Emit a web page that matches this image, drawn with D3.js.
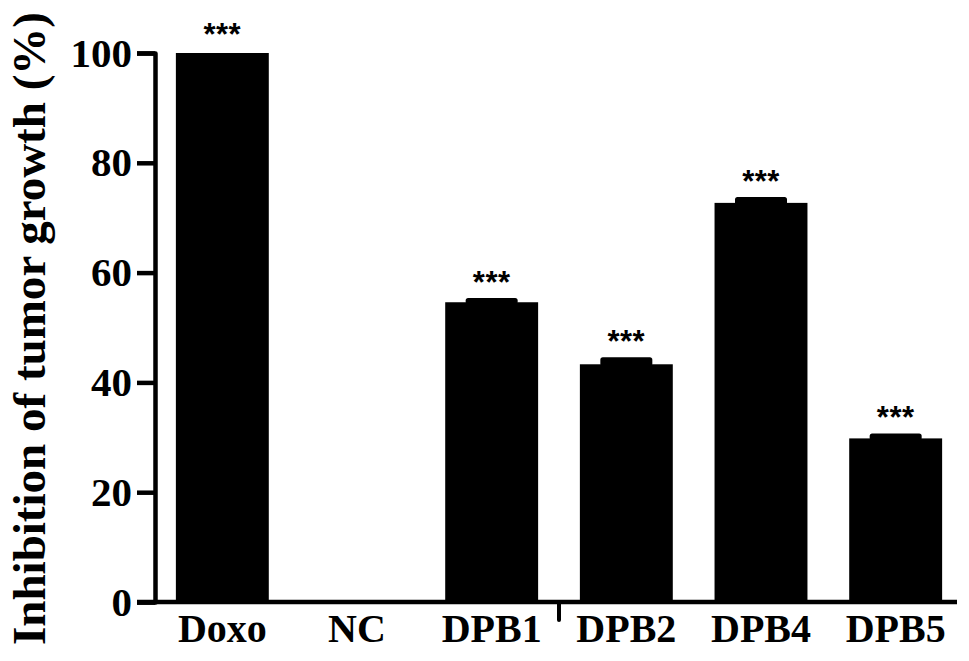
<!DOCTYPE html>
<html>
<head>
<meta charset="utf-8">
<script src="https://cdn.jsdelivr.net/npm/d3@7/dist/d3.min.js"></script>
<style>
  html, body { margin: 0; padding: 0; background: #fff; }
  svg { display: block; }
</style>
</head>
<body>
<svg id="chart" width="969" height="661"></svg>
<script>
// ---- data ----
const categories = ["Doxo", "NC", "DPB1", "DPB2", "DPB4", "DPB5"];
const values     = [100, 0, 54.6, 43.3, 72.7, 29.8];
const errors     = [0, 0, 0.4, 0.9, 0.7, 0.55];
const marks      = ["***", "", "***", "***", "***", "***"];
const yTicks     = [0, 20, 40, 60, 80, 100];
const yTitle     = "Inhibition of tumor growth (%)";

// ---- layout ----
const W = 969, H = 661;
const axisX = 155, baseY = 602, topY = 53;
const svg = d3.select("#chart");

const x = d3.scaleBand().domain(categories).range([axisX, 963])
  .paddingInner(0.31).paddingOuter(0.155);
const y = d3.scaleLinear().domain([0, 100]).range([baseY, topY]);

const serif = "'Liberation Serif', 'Times New Roman', serif";

// bars
svg.append("g").selectAll("rect").data(categories).join("rect")
  .attr("x", d => x(d))
  .attr("width", x.bandwidth())
  .attr("y", (d, i) => y(values[i]))
  .attr("height", (d, i) => baseY - y(values[i]))
  .attr("fill", "#000");

// error caps
const capW = 52;
svg.append("g").selectAll("rect").data(categories.filter((d, i) => errors[i] > 0)).join("rect")
  .attr("x", d => x(d) + x.bandwidth() / 2 - capW / 2)
  .attr("width", capW)
  .attr("y", d => { const i = categories.indexOf(d); return y(values[i] + errors[i]) - 2; })
  .attr("height", d => { const i = categories.indexOf(d); return y(values[i]) - y(values[i] + errors[i]) + 4; })
  .attr("rx", 2.5)
  .attr("fill", "#000");

// significance marks
svg.append("g").selectAll("text").data(categories).join("text")
  .attr("x", d => x(d) + x.bandwidth() / 2)
  .attr("y", (d, i) => y(values[i] + errors[i]) - (values[i] >= 100 ? 8 : 7))
  .attr("text-anchor", "middle")
  .attr("font-family", "'Liberation Sans', Arial, sans-serif")
  .attr("font-weight", "bold")
  .attr("font-size", 31)
  .attr("letter-spacing", 0.5)
  .text((d, i) => marks[i]);

// y axis
const yAxis = d3.axisLeft(y).tickValues(yTicks).tickSize(18).tickSizeOuter(18).tickPadding(5);
const gy = svg.append("g").attr("transform", `translate(${axisX},0)`).call(yAxis);
gy.selectAll("path, line").attr("stroke", "#000").attr("stroke-width", 4.5)
  .attr("stroke-linejoin", "round");
gy.select(".domain").attr("fill", "none");
gy.selectAll("text").attr("font-family", serif).attr("font-weight", "bold")
  .attr("font-size", 41).attr("fill", "#000");

// x axis line
svg.append("line")
  .attr("x1", axisX - 18).attr("x2", x.range()[1] - 6)
  .attr("y1", baseY).attr("y2", baseY)
  .attr("stroke", "#000").attr("stroke-width", 4.5);

// small tick between DPB1 and DPB2
const midX = (x("DPB1") + x.bandwidth() + x("DPB2")) / 2;
svg.append("line")
  .attr("x1", midX).attr("x2", midX)
  .attr("y1", baseY).attr("y2", baseY + 18)
  .attr("stroke", "#000").attr("stroke-width", 4).attr("stroke-linecap", "round");

// x labels
svg.append("g").selectAll("text").data(categories).join("text")
  .attr("x", d => x(d) + x.bandwidth() / 2)
  .attr("y", 642)
  .attr("text-anchor", "middle")
  .attr("font-family", serif).attr("font-weight", "bold").attr("font-size", 40)
  .text(d => d);

// y title
svg.append("text")
  .attr("transform", `translate(45,${(12 + 645) / 2}) rotate(-90)`)
  .attr("text-anchor", "middle")
  .attr("font-family", serif).attr("font-weight", "bold").attr("font-size", 46)
  .attr("textLength", 633).attr("lengthAdjust", "spacingAndGlyphs")
  .text(yTitle);
</script>
</body>
</html>
